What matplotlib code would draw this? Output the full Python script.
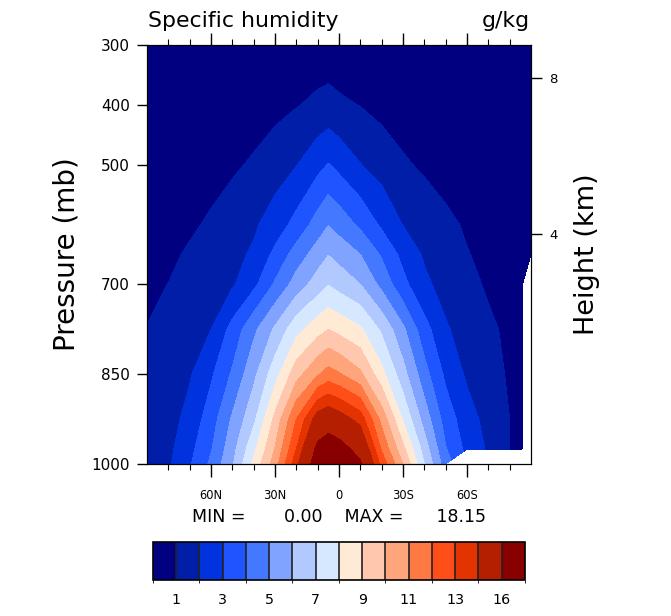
import numpy as np
import matplotlib
matplotlib.use("Agg")
import matplotlib.pyplot as plt
from matplotlib.colors import ListedColormap, BoundaryNorm
from matplotlib.cm import ScalarMappable

nan = np.nan

# zonal mean specific humidity (g/kg)
lat = [90, 80, 70, 60, 50, 40, 30, 20, 10, 5, 0, -10, -20, -30, -40, -50, -60, -70, -80, -86, -90]
lev = [1000, 975, 925, 850, 775, 700, 650, 600, 500, 400, 300]

q1000 = [1.5, 1.85, 2.89, 4.2, 5.86, 8.25, 10.5, 13.67, 17.1, 18.15, 17.4, 16.2, 12.67, 10.0, 7.0, 4.43, nan, nan, nan, nan, nan]
q975 = [1.45, 1.75, 2.71, 3.92, 5.63, 7.74, 10.05, 13.0, 16.45, 17.1, 16.7, 15.4, 11.85, 9.26, 6.54, 4.07, 2.72, 1.85, 1.0, 0.9, nan]
q925 = [1.35, 1.6, 2.33, 3.52, 5.14, 6.75, 9.27, 12.0, 14.6, 15.0, 14.6, 13.6, 10.67, 7.89, 5.58, 3.55, 2.42, 1.66, 1.0, 0.85, nan]
q850 = [1.15, 1.5, 1.9, 2.85, 4.14, 5.74, 7.6, 9.6, 10.9, 11.4, 11.1, 10.2, 8.33, 6.38, 4.39, 2.79, 1.84, 1.32, 0.9, 0.8, nan]
q775 = [1.02, 1.3, 1.65, 2.0, 3.34, 4.77, 6.16, 7.67, 8.6, 9.0, 8.7, 8.15, 6.82, 5.2, 3.39, 2.11, 1.59, 1.14, 0.85, 0.75, nan]
q700 = [0.85, 1.01, 1.3, 1.59, 1.88, 2.75, 4.14, 5.44, 6.47, 6.95, 6.63, 6.0, 4.71, 3.29, 2.2, 1.65, 1.22, 0.9, 0.7, 0.62, nan]
q650 = [0.7, 0.85, 1.1, 1.41, 1.73, 2.14, 3.25, 4.44, 5.49, 5.97, 5.65, 5.0, 3.88, 2.7, 1.88, 1.46, 1.04, 0.8, 0.65, 0.6, 0.58]
q600 = [0.6, 0.7, 0.88, 1.11, 1.48, 1.85, 2.46, 3.33, 4.43, 4.97, 4.6, 3.8, 2.82, 1.97, 1.58, 1.19, 0.9, 0.7, 0.55, 0.5, 0.5]
q500 = [0.4, 0.45, 0.55, 0.7, 0.85, 1.13, 1.54, 1.96, 2.68, 3.05, 2.71, 2.03, 1.58, 1.13, 0.85, 0.65, 0.5, 0.42, 0.35, 0.32, 0.3]
q400 = [0.22, 0.24, 0.28, 0.33, 0.4, 0.5, 0.7, 0.95, 1.2, 1.3, 1.15, 0.97, 0.7, 0.5, 0.38, 0.3, 0.25, 0.21, 0.18, 0.17, 0.17]
q300 = [0.07, 0.08, 0.1, 0.12, 0.15, 0.2, 0.3, 0.4, 0.42, 0.45, 0.42, 0.36, 0.3, 0.2, 0.14, 0.1, 0.08, 0.06, 0.05, 0.05, 0.05]

levels = [1, 2, 3, 4, 5, 6, 7, 8, 9, 10, 11, 12, 13, 14, 16]
colors = ['#000080', '#001ea8', '#0033dd', '#1f55ff', '#4479ff', '#80a3ff',
          '#b1c9ff', '#d6e8ff', '#ffead6', '#ffc8ae', '#ffa57c', '#ff7a42',
          '#ff4e18', '#e23300', '#b31f00', '#880000']

p_ticks = [300, 400, 500, 700, 850, 1000]
lat_ticks = [60, 30, 0, -30, -60]
lat_labels = ['60N', '30N', '0', '30S', '60S']
z_ticks = [4, 8]  # km

qv = np.ma.masked_invalid(np.array([q1000, q975, q925, q850, q775, q700,
                                    q650, q600, q500, q400, q300]))

fig = plt.figure(figsize=(6.71, 6.16), dpi=100)
ax = fig.add_axes([0.2191, 0.2468, 0.5723, 0.6802])

ax.contourf(lat, lev, qv, levels=levels, colors=colors, extend='both')
ax.set_xlim(90, -90)
ax.set_ylim(1000, 300)

ax.set_yticks(p_ticks)
ax.set_yticklabels([str(p) for p in p_ticks], fontsize=11)
ax.set_xticks(lat_ticks)
ax.set_xticklabels(lat_labels, fontsize=8.3)
ax.set_xticks(list(range(-80, 90, 10)), minor=True)
ax.tick_params(axis='x', which='major', direction='out', length=9, width=1,
               top=True, pad=9)
ax.tick_params(axis='x', which='minor', direction='out', length=4.5, width=0.8, top=True)
ax.tick_params(axis='y', which='major', direction='out', length=7.2, width=1, pad=5)
ax.set_ylabel('Pressure (mb)', fontsize=20, labelpad=8)

ax2 = ax.twinx()
ax2.set_ylim(1000, 300)
z_p = [1013.25 * (1 - 2.25577e-5 * z * 1000) ** 5.25588 for z in z_ticks]
ax2.set_yticks(z_p)
ax2.set_yticklabels([str(z) for z in z_ticks], fontsize=9.5)
ax2.tick_params(axis='y', direction='out', length=8, width=1, pad=5)
ax2.set_ylabel('Height (km)', fontsize=19.5, labelpad=12)

fig.text(0.2206, 0.956, 'Specific humidity', fontsize=15.8, ha='left', va='baseline')
fig.text(0.79, 0.956, 'g/kg', fontsize=15.8, ha='right', va='baseline')
fig.text(0.5045, 0.1526, 'MIN =       0.00    MAX =      18.15', fontsize=12.5,
         ha='center', va='baseline')

cax = fig.add_axes([0.228, 0.0584, 0.5544, 0.0617])
sm = ScalarMappable(norm=BoundaryNorm(np.arange(17), 16), cmap=ListedColormap(colors))
cb = fig.colorbar(sm, cax=cax, orientation='horizontal', drawedges=True)
cb.set_ticks(np.arange(1, 16, 2))
cb.set_ticklabels([str(v) for v in levels[::2]])
cb.ax.tick_params(length=0, labelsize=10.3, pad=9)
cb.dividers.set_color('#222222')
cb.dividers.set_linewidth(1.2)
cb.outline.set_linewidth(1.2)

fig.savefig('out.png', dpi=100)
